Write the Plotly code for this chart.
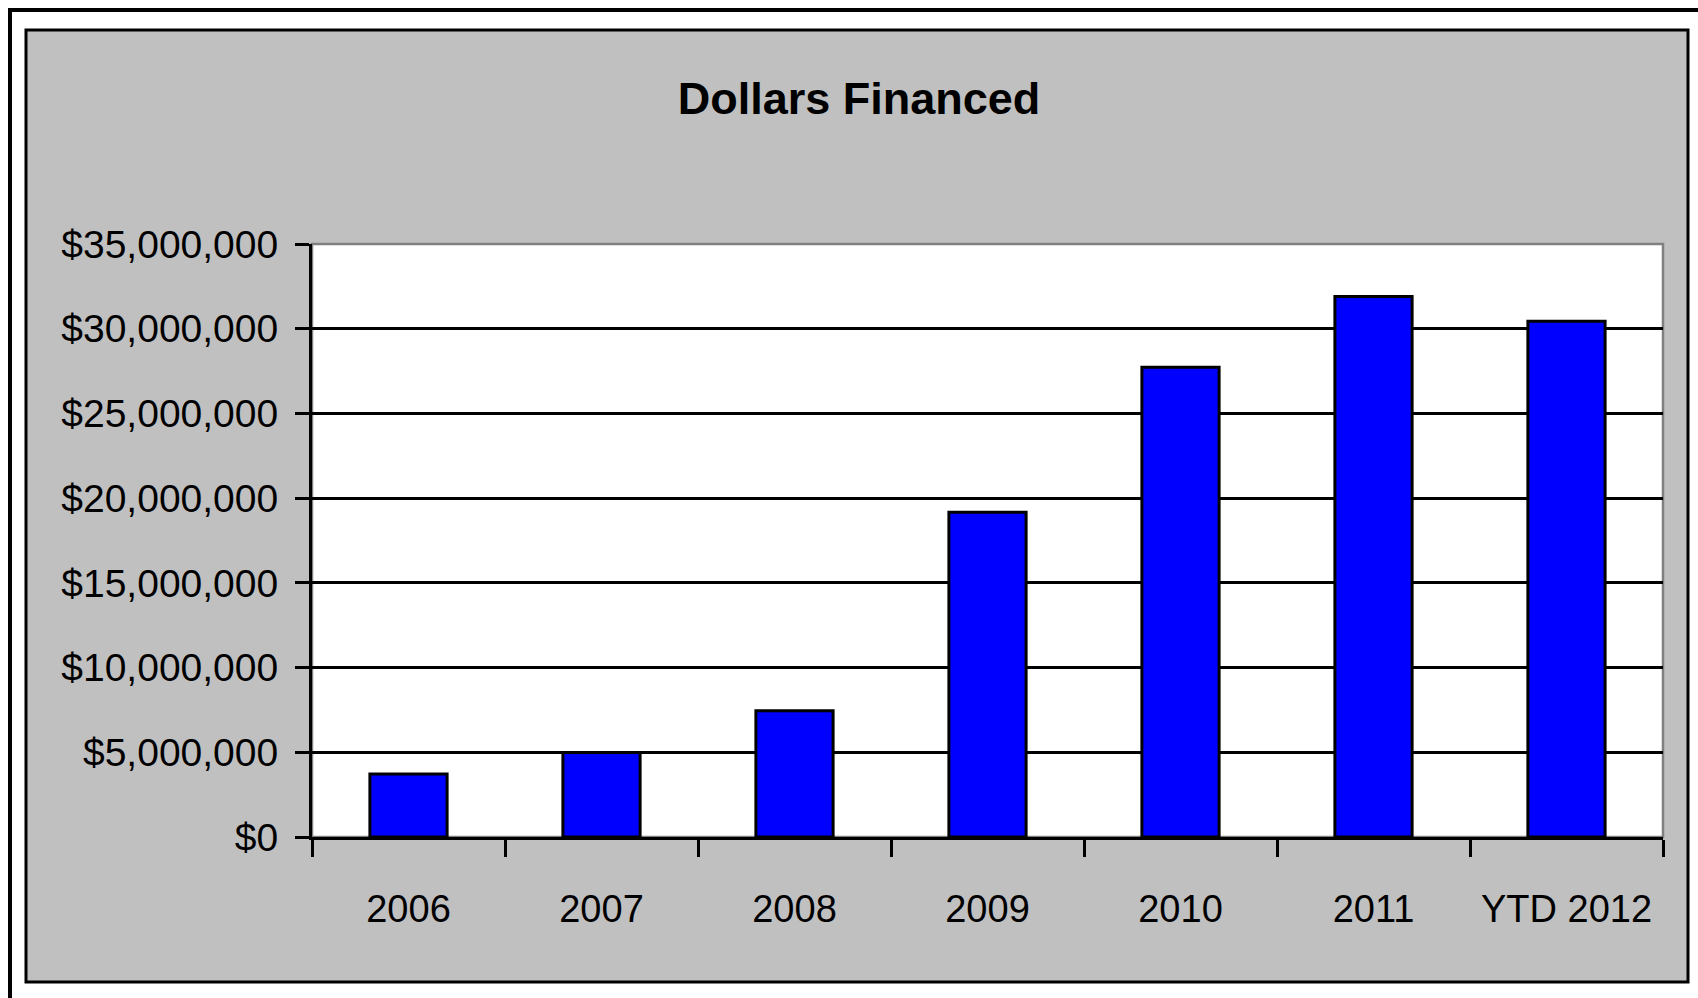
import plotly.graph_objects as go

# Dollars financed per year
years = ["2006", "2007", "2008", "2009", "2010", "2011", "YTD 2012"]
dollars = [3720000, 4980000, 7450000, 19160000, 27720000, 31900000, 30440000]

W, H = 1698, 998
L, R, T, B = 312, 35, 244, 161
pw, ph = W - L - R, H - T - B


def px(x):
    return (x - L) / pw


def py(y):
    return (H - B - y) / ph


FONT = "Liberation Sans, Arial, sans-serif"

fig = go.Figure(
    go.Bar(
        x=years,
        y=dollars,
        marker=dict(color="#0000FF", line=dict(color="#000000", width=3)),
        width=0.4,
    )
)

shapes = [
    # outer frame
    dict(type="rect", xref="paper", yref="paper", layer="below",
         x0=px(10), x1=px(1702), y0=py(10), y1=py(1002),
         line=dict(color="#000000", width=4), fillcolor="#FFFFFF"),
    # grey chart area
    dict(type="rect", xref="paper", yref="paper", layer="below",
         x0=px(26), x1=px(1688), y0=py(30), y1=py(982),
         line=dict(color="#000000", width=3), fillcolor="#C0C0C0"),
    # white plot area
    dict(type="rect", xref="paper", yref="paper", layer="below",
         x0=0, x1=1, y0=0, y1=1,
         line=dict(color="#808080", width=2.5), fillcolor="#FFFFFF"),
]

fig.update_layout(
    width=W, height=H,
    margin=dict(l=L, r=R, t=T, b=B, pad=0, autoexpand=False),
    paper_bgcolor="#FFFFFF",
    plot_bgcolor="rgba(0,0,0,0)",
    shapes=shapes,
    showlegend=False,
    bargap=0.6,
    title=dict(
        text="<b>Dollars Financed</b>",
        x=px(859), xanchor="center", xref="paper",
        y=1 - 98 / H, yanchor="middle",
        font=dict(family=FONT, size=45, color="#000000"),
    ),
    font=dict(family=FONT, color="#000000"),
)

fig.update_yaxes(
    range=[0, 35000000], dtick=5000000, tickformat="$,.0f",
    showgrid=True, gridcolor="#000000", gridwidth=2.5,
    zeroline=False,
    showline=True, linecolor="#000000", linewidth=3,
    ticks="outside", ticklen=14, tickwidth=3, tickcolor="#000000",
    ticklabelstandoff=9, automargin=False,
    tickfont=dict(family=FONT, size=39, color="#000000"),
    fixedrange=True,
)

fig.update_xaxes(
    type="category",
    showgrid=False, zeroline=False,
    showline=True, linecolor="#000000", linewidth=3,
    ticks="outside", ticklen=17, tickwidth=3, tickcolor="#000000",
    tickson="boundaries", tickangle=0,
    ticklabelstandoff=36, automargin=False,
    tickfont=dict(family=FONT, size=38, color="#000000"),
    fixedrange=True,
)

fig.write_html("out.html", config={"displayModeBar": False})
